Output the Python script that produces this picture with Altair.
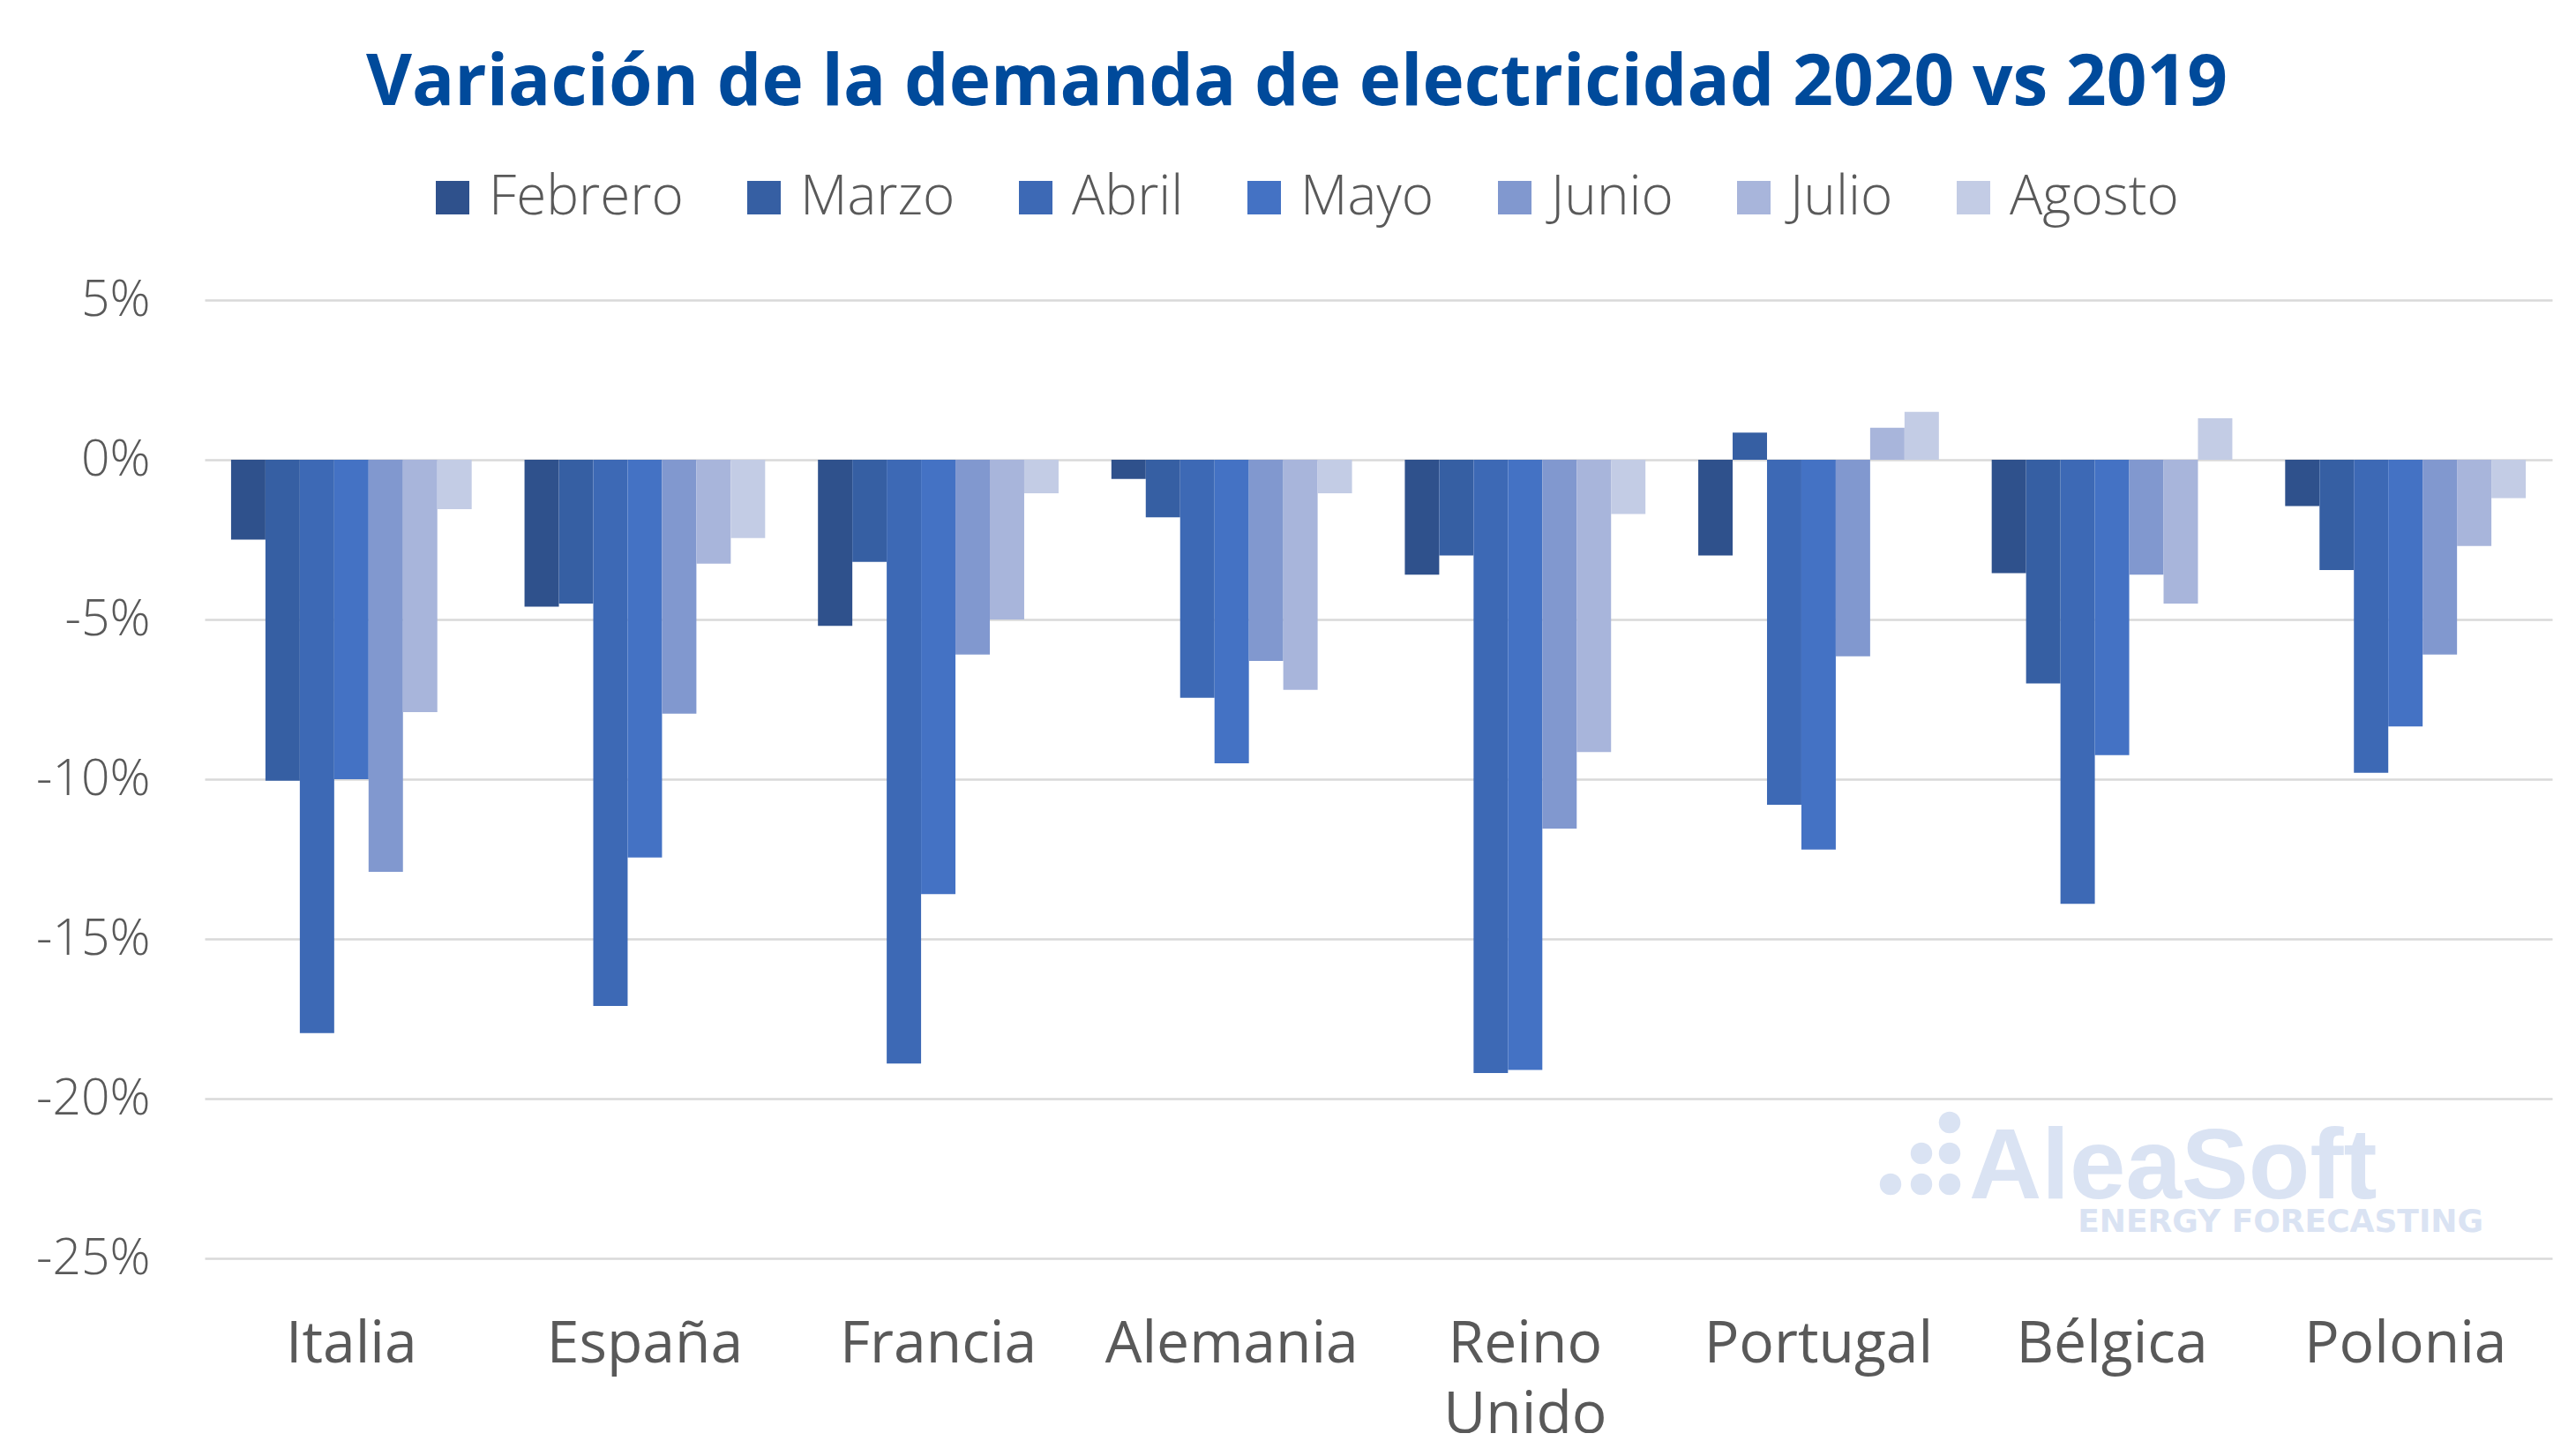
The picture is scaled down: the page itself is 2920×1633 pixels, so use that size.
import altair as alt
import pandas as pd

countries = ["Italia", "España", "Francia", "Alemania", "Reino Unido", "Portugal", "Bélgica", "Polonia"]
months = ["Febrero", "Marzo", "Abril", "Mayo", "Junio", "Julio", "Agosto"]
colors = ["#2F518C", "#365FA3", "#3D69B5", "#4472C4", "#8198CF", "#A8B5DB", "#C3CCE5"]

febrero = [-2.5, -4.6, -5.2, -0.6, -3.6, -3.0, -3.55, -1.45]
marzo = [-10.05, -4.5, -3.2, -1.8, -3.0, 0.85, -7.0, -3.45]
abril = [-17.95, -17.1, -18.9, -7.45, -19.2, -10.8, -13.9, -9.8]
mayo = [-10.0, -12.45, -13.6, -9.5, -19.1, -12.2, -9.25, -8.35]
junio = [-12.9, -7.95, -6.1, -6.3, -11.55, -6.15, -3.6, -6.1]
julio = [-7.9, -3.25, -5.0, -7.2, -9.15, 1.0, -4.5, -2.7]
agosto = [-1.55, -2.45, -1.05, -1.05, -1.7, 1.5, 1.3, -1.2]

series = [febrero, marzo, abril, mayo, junio, julio, agosto]
rows = []
for m, vals in zip(months, series):
    for c, v in zip(countries, vals):
        rows.append({"pais": c, "mes": m, "valor": v})
df = pd.DataFrame(rows)

W, H = 2661, 1086
FONT = "Open Sans"
GRAY = "#595959"

bars = alt.Chart(df).mark_bar().encode(
    x=alt.X("pais:N", sort=countries, title=None,
            scale=alt.Scale(paddingInner=0.18, paddingOuter=0.09),
            axis=alt.Axis(labelFontSize=66, labelColor=GRAY, labelFont=FONT,
                          labelPadding=65, ticks=False, domain=False, labelAngle=0,
                          labelLineHeight=80, labelBaseline="top", labelLimit=600,
                          grid=False,
                          labelExpr="datum.value == 'Reino Unido' ? ['Reino', 'Unido'] : datum.label")),
    xOffset=alt.XOffset("mes:N", sort=months),
    y=alt.Y("valor:Q", title=None,
            scale=alt.Scale(domain=[-25, 5], nice=False),
            axis=alt.Axis(values=[5, 0, -5, -10, -15, -20, -25], labelFontSize=57,
                          labelColor=GRAY, labelFont=FONT, labelFontWeight=300,
                          labelPadding=62, ticks=False, domain=False,
                          gridColor="#D9D9D9", gridWidth=2.6,
                          labelExpr="datum.value + '%'")),
    color=alt.Color("mes:N", sort=months,
                    scale=alt.Scale(domain=months, range=colors),
                    legend=alt.Legend(title=None, orient="none", direction="horizontal",
                                      legendX=250, legendY=-147,
                                      symbolType="square", symbolSize=1444,
                                      symbolStrokeWidth=0, labelFontSize=62,
                                      labelFont=FONT, labelFontWeight=300,
                                      labelColor=GRAY, labelOffset=10,
                                      columnPadding=60, labelLimit=400)),
)

title_df = pd.DataFrame({"t": ["Variación de la demanda de electricidad 2020 vs 2019"]})
title = alt.Chart(title_df).mark_text(
    font=FONT, fontSize=80, fontWeight="bold", color="#004A9B",
    align="center", baseline="middle"
).encode(text="t:N", x=alt.value(1238), y=alt.value(-245))

wm_df = pd.DataFrame({"t": ["AleaSoft"]})
wm = alt.Chart(wm_df).mark_text(
    font="Liberation Sans", fontSize=114, fontWeight="bold", color="#DAE3F3",
    align="left", baseline="alphabetic"
).encode(text="t:N", x=alt.value(2232 - 232), y=alt.value(1358 - 340))

wm2_df = pd.DataFrame({"t": ["ENERGY FORECASTING"]})
wm2 = alt.Chart(wm2_df).mark_text(
    font="DejaVu Sans", fontSize=36, fontWeight="bold", color="#DAE3F3",
    align="right", baseline="alphabetic"
).encode(text="t:N", x=alt.value(2815 - 232), y=alt.value(1396 - 340))

dot_x = [2210, 2178, 2210, 2143, 2178, 2210]
dot_y = [1272, 1307, 1307, 1342, 1342, 1342]
dots_df = pd.DataFrame({"dx": [x - 232 for x in dot_x], "dy": [y - 340 for y in dot_y]})
dots = alt.Chart(dots_df).mark_circle(color="#DAE3F3", opacity=1, size=600).encode(
    x=alt.X("dx:Q", scale=None, axis=None), y=alt.Y("dy:Q", scale=None, axis=None))

chart = alt.layer(bars, wm, wm2, dots, title).resolve_scale(
    x="independent", y="independent"
).properties(
    width=W, height=H,
    background="white",
    autosize=alt.AutoSizeParams(type="none"),
    padding={"left": 224, "top": 332, "right": 19, "bottom": 198},
).configure_view(strokeWidth=0, stroke=None)

chart.save("out.html", embed_options={"renderer": "svg", "actions": False})
